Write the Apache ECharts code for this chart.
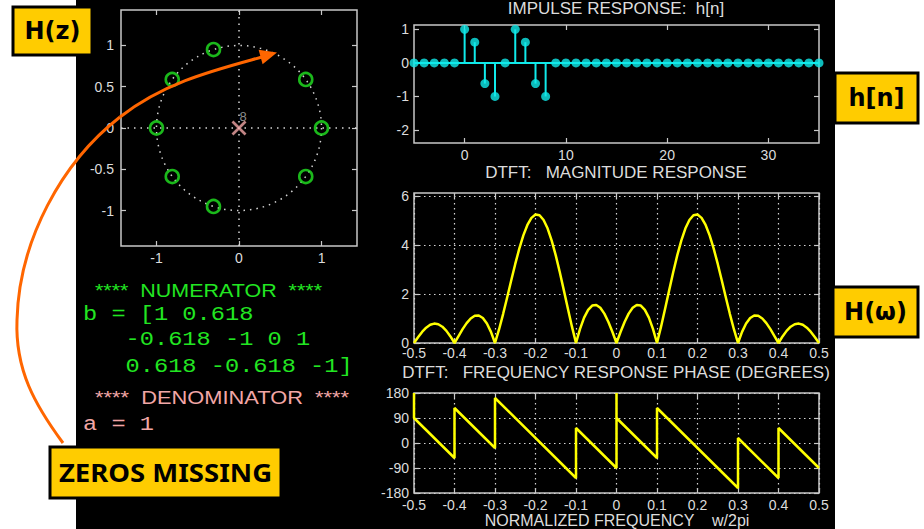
<!DOCTYPE html>
<html><head><meta charset="utf-8">
<script src="https://cdn.jsdelivr.net/npm/echarts@6/dist/echarts.min.js"></script>
<style>html,body{margin:0;padding:0;background:#fff;}#c{width:924px;height:529px;}</style>
</head><body><div id="c"></div>
<script>
// ---------- data ----------
const zerosRe = [1, 0.809, 0.809, -0.309, -0.309, -0.809, -0.809, -1];
const zerosIm = [0, 0.588, -0.588, 0.951, -0.951, 0.588, -0.588, 0];
const polesRe = [0];
const polesIm = [0];
const poleMultiplicity = ['8'];
const unitCircle = [[0, 0, 1]];
const pzXTicks = [-1, 0, 1];
const pzYTicks = [-1, -0.5, 0, 0.5, 1];

const stemN = [-5,-4,-3,-2,-1,0,1,2,3,4,5,6,7,8,9,10,11,12,13,14,15,16,17,18,19,20,21,22,23,24,25,26,27,28,29,30,31,32,33,34,35];
const stemH = [0,0,0,0,0,1,0.618,-0.618,-1,0,1,0.618,-0.618,-1,0,0,0,0,0,0,0,0,0,0,0,0,0,0,0,0,0,0,0,0,0,0,0,0,0,0,0];
const stemXTicks = [0, 10, 20, 30];
const stemYTicks = [-2, -1, 0, 1];

const magFreq = [-0.50,-0.49,-0.48,-0.47,-0.46,-0.45,-0.44,-0.43,-0.42,-0.41,-0.40,-0.39,-0.38,-0.37,-0.36,-0.35,-0.34,-0.33,-0.32,-0.31,-0.30,-0.29,-0.28,-0.27,-0.26,-0.25,-0.24,-0.23,-0.22,-0.21,-0.20,-0.19,-0.18,-0.17,-0.16,-0.15,-0.14,-0.13,-0.12,-0.11,-0.10,-0.09,-0.08,-0.07,-0.06,-0.05,-0.04,-0.03,-0.02,-0.01,0.00,0.01,0.02,0.03,0.04,0.05,0.06,0.07,0.08,0.09,0.10,0.11,0.12,0.13,0.14,0.15,0.16,0.17,0.18,0.19,0.20,0.21,0.22,0.23,0.24,0.25,0.26,0.27,0.28,0.29,0.30,0.31,0.32,0.33,0.34,0.35,0.36,0.37,0.38,0.39,0.40,0.41,0.42,0.43,0.44,0.45,0.46,0.47,0.48,0.49,0.50];
const magVals = [0,0.236,0.452,0.627,0.745,0.794,0.768,0.667,0.496,0.268,0,0.286,0.566,0.814,1.005,1.115,1.126,1.023,0.800,0.456,0,0.554,1.184,1.863,2.558,3.236,3.862,4.404,4.832,5.123,5.258,5.228,5.034,4.684,4.193,3.587,2.896,2.154,1.400,0.669,0,0.577,1.036,1.358,1.532,1.558,1.442,1.202,0.861,0.448,0,0.448,0.861,1.202,1.442,1.558,1.532,1.358,1.036,0.577,0,0.669,1.400,2.154,2.896,3.587,4.193,4.684,5.034,5.228,5.258,5.123,4.832,4.404,3.862,3.236,2.558,1.863,1.184,0.554,0,0.456,0.800,1.023,1.126,1.115,1.005,0.814,0.566,0.286,0,0.268,0.496,0.667,0.768,0.794,0.745,0.627,0.452,0.236,0];
const magYTicks = [0, 2, 4, 6];

const phaseFreq = [-0.5,-0.5,-0.4,-0.4,-0.3,-0.3,-0.1,-0.1,0,0,0,0.1,0.1,0.3,0.3,0.4,0.4,0.5];
const phaseDeg  = [180,90,-54,126,-18,162,-126,54,-90,180,90,-54,126,-162,18,-126,54,-90];
const phaseYTicks = [-180, -90, 0, 90, 180];
const freqTicks = [-0.5,-0.4,-0.3,-0.2,-0.1,0,0.1,0.2,0.3,0.4,0.5];

// ---------- styling ----------
const TXT = '#dcdcdc', BOX = '#c8c8c8', DOT = '#d4d4d4';
const CYAN = '#10eaea', YEL = '#ffff00', GRN = '#22e622', PINK = '#f2a6a6';
const FONT = 'Liberation Sans';

function axisPair(dim, gi, min, max, ticks, o) {
  o = o || {};
  const mk = (isMain) => {
    const a = {
      type: 'value', gridIndex: gi, min: min, max: max,
      position: dim === 'x' ? (isMain ? 'bottom' : 'top') : (isMain ? 'left' : 'right'),
      axisLine: { show: false, onZero: false },
      axisTick: { show: true, inside: true, length: 5, customValues: ticks, lineStyle: { color: BOX, width: 1.2 } },
      splitLine: { show: isMain && !!o.grid, lineStyle: { color: DOT, type: [1.5, 3.5], width: 1.2 } },
      axisLabel: isMain ? {
        show: true, customValues: ticks, color: TXT, fontSize: 14, fontFamily: FONT,
        margin: o.margin != null ? o.margin : 5,
        formatter: o.fmt || ((v) => String(v))
      } : { show: false }
    };
    if (o.interval) a.interval = o.interval;
    return a;
  };
  return [mk(true), mk(false)];
}
const fmtF = (v) => (Math.abs(v) < 1e-9 ? '0' : String(+v.toFixed(1)));

const grids = [
  { left: 121, top: 10, width: 236, height: 236 },
  { left: 414, top: 25, width: 405, height: 118 },
  { left: 414, top: 193, width: 405, height: 150 },
  { left: 414, top: 393, width: 405, height: 100 }
].map(g => Object.assign(g, { show: true, borderColor: BOX, borderWidth: 1.5, backgroundColor: 'transparent', containLabel: false }));

const xAxes = [].concat(
  axisPair('x', 0, -1.43, 1.43, pzXTicks, { margin: 5 }),
  axisPair('x', 1, -5, 35, stemXTicks, { margin: 5 }),
  axisPair('x', 2, -0.5, 0.5, freqTicks, { grid: true, interval: 0.1, fmt: fmtF, margin: 3 }),
  axisPair('x', 3, -0.5, 0.5, freqTicks, { grid: true, interval: 0.1, fmt: fmtF, margin: 5 })
);
const yAxes = [].concat(
  axisPair('y', 0, -1.43, 1.43, pzYTicks, { margin: 7 }),
  axisPair('y', 1, -2.39, 1.13, stemYTicks, { margin: 5 }),
  axisPair('y', 2, 0, 6.14, magYTicks, { grid: true, interval: 2, margin: 5 }),
  axisPair('y', 3, -180, 180, phaseYTicks, { grid: true, interval: 90, margin: 5 })
);

const series = [
  { // unit circle reference
    type: 'custom', xAxisIndex: 0, yAxisIndex: 0, data: unitCircle, silent: true, z: 1,
    renderItem: (p, api) => {
      const c = api.coord([api.value(0), api.value(1)]);
      const s = api.size([api.value(2), api.value(2)]);
      return { type: 'circle', shape: { cx: c[0], cy: c[1], r: s[0] },
        style: { fill: 'none', stroke: DOT, lineWidth: 1.5, lineDash: [1.5, 5] } };
    }
  },
  { // zeros
    type: 'scatter', xAxisIndex: 0, yAxisIndex: 0, z: 5,
    data: zerosRe.map((r, i) => [r, zerosIm[i]]),
    symbol: 'circle', symbolSize: 13,
    itemStyle: { color: 'rgba(0,0,0,0)', borderColor: GRN, borderWidth: 2.6 },
    markLine: { silent: true, symbol: ['none', 'none'], label: { show: false },
      lineStyle: { color: DOT, type: [1.5, 5], width: 1.5 },
      data: [{ xAxis: 0 }, { yAxis: 0 }] }
  },
  { // poles
    type: 'scatter', xAxisIndex: 0, yAxisIndex: 0, z: 6,
    data: polesRe.map((r, i) => ({ value: [r, polesIm[i]], name: poleMultiplicity[i] })),
    symbol: 'path://M0,1.3L1.3,0L5,3.7L8.7,0L10,1.3L6.3,5L10,8.7L8.7,10L5,6.3L1.3,10L0,8.7L3.7,5Z',
    symbolSize: 15, itemStyle: { color: PINK },
    label: { show: true, formatter: (p) => p.name, position: [8, -11], color: '#b4b4b4', fontSize: 13, fontFamily: FONT }
  },
  { // stems
    type: 'custom', xAxisIndex: 2, yAxisIndex: 2, z: 3,
    data: stemN.map((n, i) => [n, stemH[i]]),
    renderItem: (p, api) => {
      const p0 = api.coord([api.value(0), 0]);
      const p1 = api.coord([api.value(0), api.value(1)]);
      return { type: 'line', shape: { x1: p0[0], y1: p0[1], x2: p1[0], y2: p1[1] },
        style: { stroke: CYAN, lineWidth: 2 } };
    }
  },
  { // stem heads
    type: 'scatter', xAxisIndex: 2, yAxisIndex: 2, z: 4,
    data: stemN.map((n, i) => [n, stemH[i]]),
    symbol: 'circle', symbolSize: 9, itemStyle: { color: CYAN },
    markLine: { silent: true, symbol: ['none', 'none'], label: { show: false },
      lineStyle: { color: CYAN, type: 'solid', width: 2 }, data: [{ yAxis: 0 }] }
  },
  { // magnitude
    type: 'line', xAxisIndex: 4, yAxisIndex: 4, z: 4,
    data: magFreq.map((f, i) => [f, magVals[i]]),
    symbol: 'none', lineStyle: { color: YEL, width: 2.5 }
  },
  { // phase
    type: 'line', xAxisIndex: 6, yAxisIndex: 6, z: 4,
    data: phaseFreq.map((f, i) => [f, phaseDeg[i]]),
    symbol: 'none', lineStyle: { color: YEL, width: 2.5 }
  }
];

function txt(text, x, y, o) {
  return { type: 'text', x: x, y: y, scaleX: o.sx || 1, z: o.z || 20,
    style: { text: text, fill: o.color || TXT, font: (o.weight || 'normal') + ' ' + o.size + 'px "' + (o.family || FONT) + '"',
      align: o.align || 'left', verticalAlign: 'middle' } };
}
function labelBox(text, x, y, w, h, o) {
  return [
    { type: 'rect', z: 70, shape: { x: x, y: y, width: w, height: h }, style: { fill: '#ffcc00', stroke: '#000', lineWidth: 3 } },
    txt(text, x + w / 2 + (o.dx || 0), y + h / 2, { size: o.size, weight: 'bold', family: o.family, color: '#000', align: 'center', sx: o.sx, z: 71 })
  ];
}
const ORANGE = '#ff6600';
function curve(x1, y1, c1x, c1y, c2x, c2y, x2, y2) {
  return { type: 'bezierCurve', z: 60, shape: { x1: x1, y1: y1, cpx1: c1x, cpy1: c1y, cpx2: c2x, cpy2: c2y, x2: x2, y2: y2 },
    style: { fill: null, stroke: ORANGE, lineWidth: 3 } };
}

const graphic = [].concat(
  [{ type: 'rect', z: -10, shape: { x: 76, y: 0, width: 759, height: 529 }, style: { fill: '#000' } }],
  [
    txt('IMPULSE RESPONSE:  h[n]', 616, 8, { size: 17, align: 'center' }),
    txt('DTFT:   MAGNITUDE RESPONSE', 616, 172, { size: 17, align: 'center' }),
    txt('DTFT:   FREQUENCY RESPONSE PHASE (DEGREES)', 616, 372, { size: 17, align: 'center' }),
    txt('NORMALIZED FREQUENCY    w/2pi', 617, 520, { size: 16, align: 'center' }),
    txt('****  NUMERATOR  ****', 95, 290, { size: 19, sx: 1.13, color: GRN }),
    txt('b = [1 0.618', 83, 314, { size: 21, sx: 1.127, color: GRN, family: 'Liberation Mono' }),
    txt('   -0.618 -1 0 1', 83, 339, { size: 21, sx: 1.127, color: GRN, family: 'Liberation Mono' }),
    txt('   0.618 -0.618 -1]', 83, 366, { size: 21, sx: 1.127, color: GRN, family: 'Liberation Mono' }),
    txt('****  DENOMINATOR  ****', 95, 397.5, { size: 19, sx: 1.15, color: PINK }),
    txt('a = 1', 83, 424, { size: 21, sx: 1.127, color: PINK, family: 'Liberation Mono' })
  ],
  [
    curve(63, 443, 35, 405, 15, 370, 17, 320),
    curve(17, 320, 19, 240, 62, 162, 120, 117),
    curve(120, 117, 165, 82, 215, 70, 262, 57),
    { type: 'polygon', z: 61, shape: { points: [[277, 52.5], [258.6, 49.8], [262.6, 64.2]] }, style: { fill: ORANGE } }
  ],
  labelBox('H(z)', 13, 7, 79, 48, { size: 24, family: 'DejaVu Sans' }),
  labelBox('h[n]', 835, 73, 83, 50, { size: 24, family: 'DejaVu Sans' }),
  labelBox('H(\u03c9)', 833, 287, 85, 50, { size: 24, family: 'DejaVu Sans' }),
  labelBox('ZEROS MISSING', 50, 447, 231, 51, { size: 25, family: 'Noto Sans', sx: 1.1 })
);

const chart = echarts.init(document.getElementById('c'), null, { renderer: 'svg', width: 924, height: 529 });
chart.setOption({
  animation: false,
  backgroundColor: '#ffffff',
  grid: grids, xAxis: xAxes, yAxis: yAxes, series: series, graphic: { elements: graphic }
});
</script></body></html>
